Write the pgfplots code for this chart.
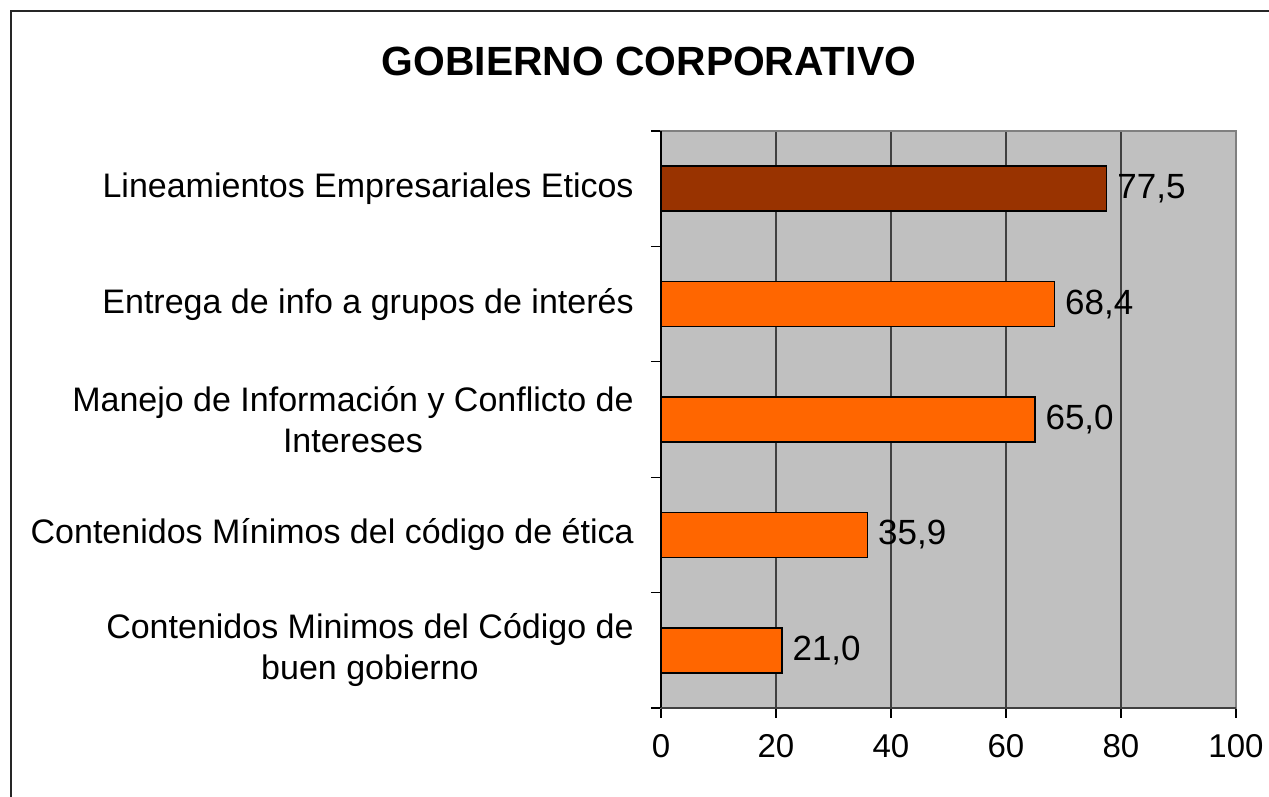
\documentclass[border=0pt]{standalone}
\usepackage{fontspec}
\setmainfont{Liberation Sans}
\usepackage{pgfplots}
\pgfplotsset{compat=1.18}
\definecolor{brownbar}{HTML}{993300}
\definecolor{orangebar}{HTML}{FF6600}
\definecolor{plotbg}{HTML}{C0C0C0}
\begin{document}
\begin{tikzpicture}
\path[use as bounding box] (0,0) rectangle (634.5pt,398.5pt);
\draw[line width=1pt, black!85] (5.3pt,0pt) -- (5.3pt,393.2pt) -- (634.5pt,393.2pt);
\node[font=\bfseries\fontsize{20.4}{24}\selectfont] at (324.5pt,368pt) {GOBIERNO CORPORATIVO};
\begin{axis}[
  at={(330.5pt,44.5pt)}, anchor=south west,
  scale only axis, width=287.5pt, height=288.5pt,
  xbar, bar width=22.5pt,
  xmin=0, xmax=100, ymin=-0.5, ymax=4.5,
  xtick={0,20,40,60,80,100},
  ytick={0,1,2,3,4},
  yticklabels={{Contenidos Minimos del Código de\\buen gobierno},
               {Contenidos Mínimos del código de ética},
               {Manejo de Información y Conflicto de\\Intereses},
               {Entrega de info a grupos de interés},
               {Lineamientos Empresariales Eticos}},
  minor ytick={-0.5,0.5,1.5,2.5,3.5,4.5},
  tick pos=left,
  tick align=outside,
  major tick length=5pt, minor tick length=5pt,
  major y tick style={draw=none},
  minor y tick style={draw=black, line width=0.6pt},
  major x tick style={draw=black, line width=0.6pt},
  xmajorgrids, grid style={draw=black!75, line width=0.7pt},
  axis background/.style={fill=plotbg},
  axis line style={draw=gray, line width=0.8pt},
  yticklabel style={align=center, font=\fontsize{17}{20.5}\selectfont, inner sep=0pt, xshift=-8.5pt},
  xticklabel style={font=\fontsize{16.5}{19}\selectfont, yshift=-4.5pt},
  /pgf/number format/assume math mode=true,
  point meta=x,
  nodes near coords={\pgfmathprintnumber[fixed,fixed zerofill,precision=1,use comma]{\pgfplotspointmeta}},
  nodes near coords style={anchor=west, font=\fontsize{17.5}{20}\selectfont, inner sep=0pt, xshift=5pt, /pgf/number format/assume math mode=true},
  clip=false,
]
\addplot[fill=orangebar, draw=black, line width=0.8pt, bar shift=0pt] coordinates {(21.0,0) (35.9,1) (65.0,2) (68.4,3)};
\addplot[fill=brownbar, draw=black, line width=0.8pt, bar shift=0pt] coordinates {(77.5,4)};
\draw[black, line width=0.8pt] (axis cs:0,-0.5) -- (axis cs:0,4.5);
\draw[black!75, line width=0.8pt] (axis cs:0,-0.5) -- (axis cs:100,-0.5);
\end{axis}
\end{tikzpicture}
\end{document}
